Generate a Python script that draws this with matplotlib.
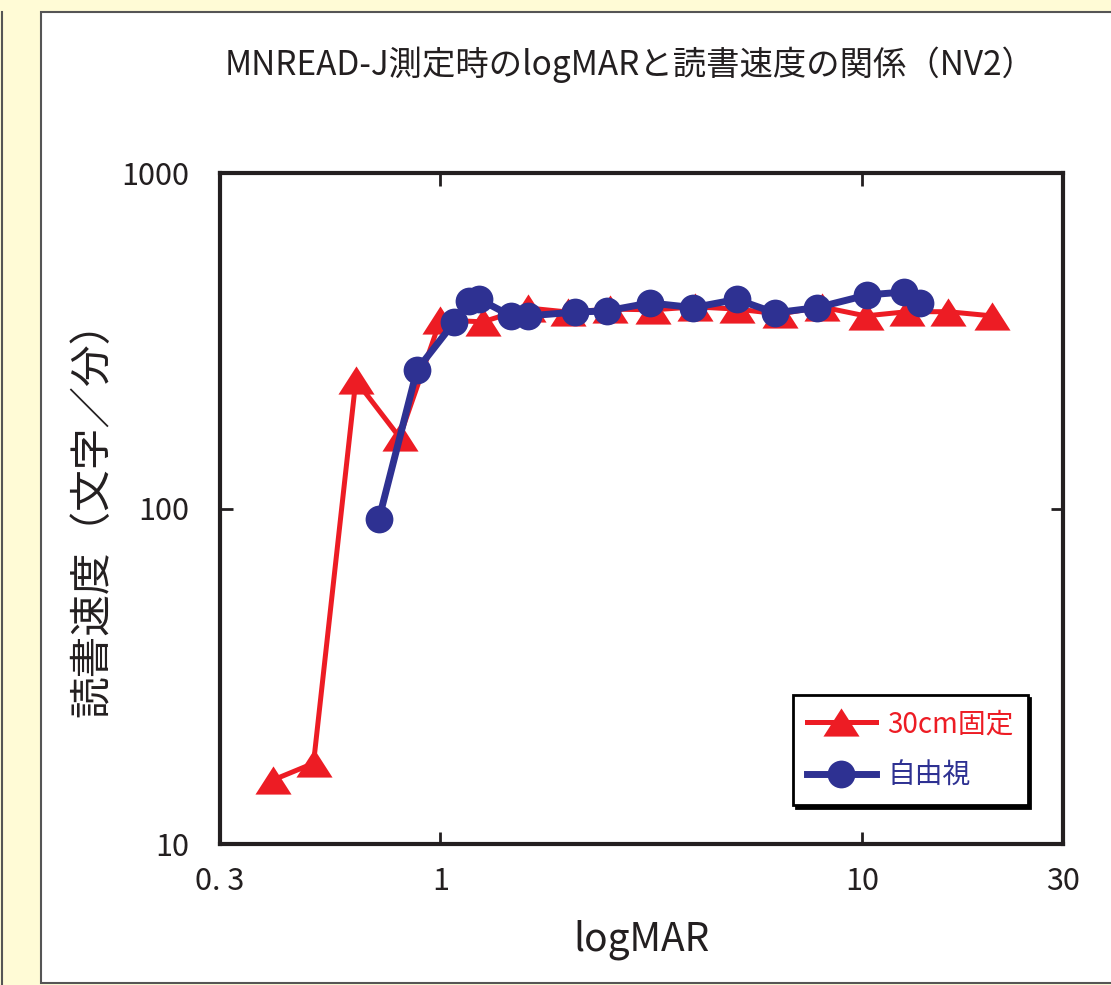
import matplotlib
matplotlib.use("Agg")
import matplotlib.pyplot as plt
from matplotlib.patches import Rectangle
from matplotlib.lines import Line2D

plt.rcParams['font.family'] = ['Noto Sans CJK JP', 'DejaVu Sans']

# 30cm fixed distance (red triangles)
fixed_x = [0.40, 0.50, 0.63, 0.80, 1.00, 1.26, 1.61, 2.01, 2.53, 3.19,
           4.02, 5.05, 6.38, 8.03, 10.2, 12.8, 16.0, 20.4]
fixed_y = [15.5, 17.4, 241, 163, 365, 360, 396, 385, 393, 391,
           399, 393, 380, 399, 375, 386, 386, 375]

# free viewing distance (blue circles)
free_x = [0.715, 0.88, 1.08, 1.17, 1.235, 1.47, 1.61, 2.09, 2.48, 3.14,
          3.98, 5.05, 6.22, 7.83, 10.3, 12.6, 13.7]
free_y = [93.2, 259, 360, 415, 421, 375, 375, 385, 388, 410,
          397, 420, 383, 397, 433, 442, 410]

labels = ["30cm固定", "自由視"]
xticks = [0.3, 1, 10, 30]
xticklabels = ["0. 3", "1", "10", "30"]
yticks = [10, 100, 1000]

RED = "#ED1C24"
BLUE = "#2E3192"
INK = "#231F20"

fig = plt.figure(figsize=(11.11, 9.85), dpi=100, facecolor="#FFFBD6")
W, H = 1111, 985

# white panel with grey edge, and the edge of the neighbouring panel
fig.add_artist(Rectangle((41 / W, 1 - 983 / H), 1.2, (983 - 12) / H,
                         transform=fig.transFigure, facecolor="white",
                         edgecolor="#555555", linewidth=1.5, zorder=-10))
fig.add_artist(Line2D([2 / W, 2 / W], [0, 1 - 12 / H], transform=fig.transFigure,
                      color="#555555", linewidth=1.5, zorder=-10))

ax = fig.add_axes([220 / W, 1 - 844 / H, (1063 - 220) / W, (844 - 173) / H])
ax.patch.set_alpha(0)
ax.set_xscale("log")
ax.set_yscale("log")
ax.set_xlim(0.3, 30)
ax.set_ylim(10, 1000)

tri = [(-1, -0.78), (1, -0.78), (0, 0.78)]
ax.plot(fixed_x, fixed_y, color=RED, linewidth=3.6, marker=tri,
        markersize=26, markeredgewidth=0, label=labels[0], zorder=3)
ax.plot(free_x, free_y, color=BLUE, linewidth=5, marker="o",
        markersize=20, markeredgewidth=0, label=labels[1], zorder=4)

ax.minorticks_off()
ax.set_xticks(xticks)
ax.set_xticklabels(xticklabels)
ax.set_yticks(yticks)
ax.set_yticklabels([str(v) for v in yticks])
ax.tick_params(direction="in", length=9, width=2, colors=INK, labelsize=22,
               top=True, right=True)
ax.tick_params(axis="x", pad=16)
ax.tick_params(axis="y", pad=22)
for s in ax.spines.values():
    s.set_linewidth(3)
    s.set_color(INK)

ax.set_xlabel("logMAR", fontsize=28, color=INK, labelpad=16)
ax.set_ylabel("読書速度（文字／分）", fontsize=30, color=INK, labelpad=6)
fig.text(630 / W, 1 - 65 / H, "MNREAD-J測定時のlogMARと読書速度の関係（NV2）",
         fontsize=24, color=INK, ha="center", va="center")

leg = ax.legend(loc="lower right", bbox_to_anchor=(0.958, 0.058),
                fontsize=20, frameon=True, fancybox=False, edgecolor="black",
                framealpha=1, handlelength=2.5, borderpad=0.5,
                labelspacing=0.8, handletextpad=0.4, borderaxespad=0,
                shadow={"color": "black", "alpha": 1})
leg.get_frame().set_linewidth(2)
for txt, c in zip(leg.get_texts(), [RED, BLUE]):
    txt.set_color(c)

fig.savefig("out.png", dpi=100, facecolor=fig.get_facecolor())
